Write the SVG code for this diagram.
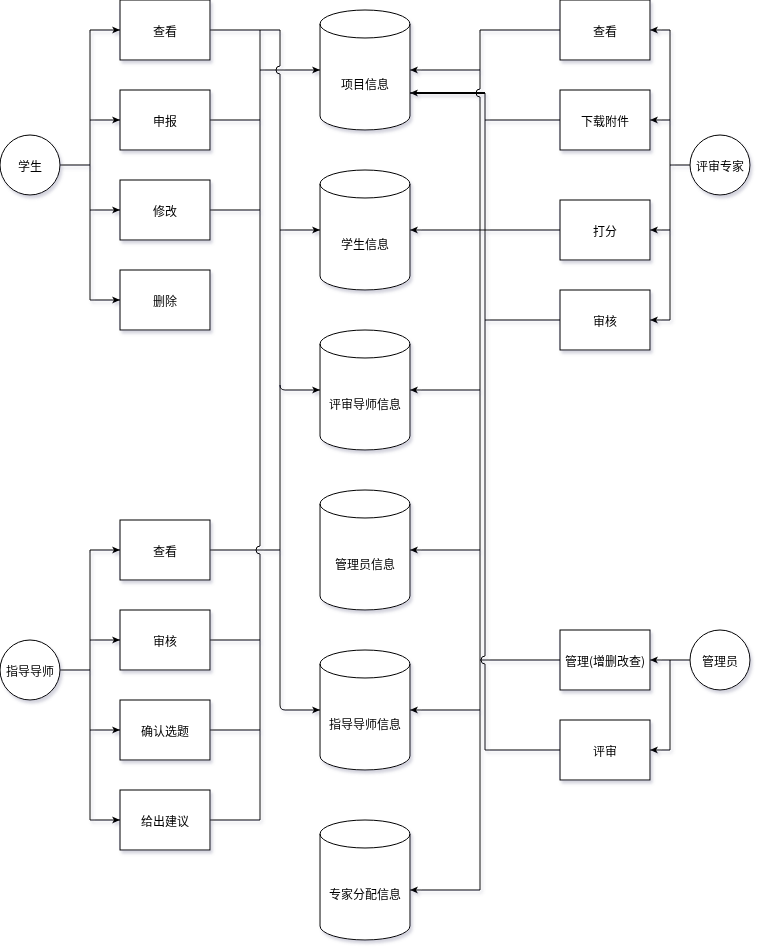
<svg xmlns="http://www.w3.org/2000/svg" width="762" height="952" viewBox="0 0 762 952">
<defs>
<style>
.box{fill:#fff;stroke:#000;stroke-width:1}
.t{font-family:"Noto Sans CJK SC","Noto Sans",sans-serif;font-size:12px;text-anchor:middle;dominant-baseline:central;fill:#000}
.e{fill:none;stroke:#000;stroke-width:1}
.ar{marker-end:url(#a)}
</style>
<marker id="a" markerWidth="10" markerHeight="10" refX="9" refY="5" orient="auto" markerUnits="userSpaceOnUse"><path d="M1,1.5 L9,5 L1,8.5 L3,5 Z" fill="#000"/></marker>
<filter id="sh" x="-20%" y="-20%" width="140%" height="140%"><feDropShadow dx="2" dy="3" stdDeviation="1.5" flood-color="#707090" flood-opacity="0.3"/></filter>
</defs>
<rect width="762" height="952" fill="#fff"/>
<g id="connectors" filter="url(#sh)">
<!-- student tree -->
<path class="e" d="M60,165 L90,165 M90,30 L90,300"/>
<path class="e ar" d="M90,30 L120,30"/>
<path class="e ar" d="M90,120 L120,120"/>
<path class="e ar" d="M90,210 L120,210"/>
<path class="e ar" d="M90,300 L120,300"/>
<!-- tutor tree -->
<path class="e" d="M60,670 L90,670 M90,550 L90,820"/>
<path class="e ar" d="M90,550 L120,550"/>
<path class="e ar" d="M90,640 L120,640"/>
<path class="e ar" d="M90,730 L120,730"/>
<path class="e ar" d="M90,820 L120,820"/>
<!-- left bus -->
<path class="e" d="M210,30 L280,30"/>
<path class="e" d="M260,30 L260,546 A4,4 0 0 0 260,554 L260,820"/>
<path class="e" d="M210,120 L260,120 M210,210 L260,210 M210,640 L260,640 M210,730 L260,730 M210,820 L260,820"/>
<path class="e" d="M210,550 L280,550"/>
<path class="e ar" d="M260,70 L320,70"/>
<path class="e ar" d="M280,30 L280,66 A4,4 0 0 0 280,74 L280,705 Q280,710 285,710 L320,710"/>
<path class="e ar" d="M280,230 L320,230"/>
<path class="e ar" d="M280,385 Q280,390 285,390 L320,390"/>
<!-- right bus -->
<path class="e ar" d="M560,30 L480,30 L480,89 A4,4 0 0 0 480,97 L480,890 L410,890"/>
<path class="e ar" d="M480,70 L410,70"/>
<path class="e ar" d="M480,390 L410,390"/>
<path class="e ar" d="M480,550 L410,550"/>
<path class="e ar" d="M480,710 L410,710"/>
<path class="e ar" d="M560,230 L410,230"/>
<path class="e ar" style="stroke-width:2" d="M485,93 L410,93"/>
<path class="e" d="M485,93 L485,656 A4,4 0 0 0 485,664 L485,750 L560,750"/>
<path class="e" d="M485,120 L560,120 M485,320 L560,320"/>
<path class="e" d="M560,660 L480,660"/>
<!-- expert tree -->
<path class="e" d="M690,165 L670,165 M670,30 L670,320"/>
<path class="e ar" d="M670,30 L650,30"/>
<path class="e ar" d="M670,120 L650,120"/>
<path class="e ar" d="M670,230 L650,230"/>
<path class="e ar" d="M670,320 L650,320"/>
<!-- admin tree -->
<path class="e" d="M690,660 L670,660 L670,750"/>
<path class="e ar" d="M670,660 L650,660"/>
<path class="e ar" d="M670,750 L650,750"/>
</g>
<g filter="url(#sh)">
<g id="student"><circle class="box" cx="30" cy="165" r="30"/><text class="t" x="30" y="165">学生</text></g>
<g id="tutor"><circle class="box" cx="30" cy="670" r="30"/><text class="t" x="30" y="670">指导导师</text></g>
<g id="expert"><circle class="box" cx="720" cy="165" r="30"/><text class="t" x="720" y="165">评审专家</text></g>
<g id="admin"><circle class="box" cx="720" cy="660" r="30"/><text class="t" x="720" y="660">管理员</text></g>

<g id="s-view"><rect class="box" x="120" y="0" width="90" height="60"/><text class="t" x="165" y="30">查看</text></g>
<g id="s-apply"><rect class="box" x="120" y="90" width="90" height="60"/><text class="t" x="165" y="120">申报</text></g>
<g id="s-edit"><rect class="box" x="120" y="180" width="90" height="60"/><text class="t" x="165" y="210">修改</text></g>
<g id="s-del"><rect class="box" x="120" y="270" width="90" height="60"/><text class="t" x="165" y="300">删除</text></g>

<g id="t-view"><rect class="box" x="120" y="520" width="90" height="60"/><text class="t" x="165" y="550">查看</text></g>
<g id="t-review"><rect class="box" x="120" y="610" width="90" height="60"/><text class="t" x="165" y="640">审核</text></g>
<g id="t-confirm"><rect class="box" x="120" y="700" width="90" height="60"/><text class="t" x="165" y="730">确认选题</text></g>
<g id="t-advise"><rect class="box" x="120" y="790" width="90" height="60"/><text class="t" x="165" y="820">给出建议</text></g>

<g id="e-view"><rect class="box" x="560" y="0" width="90" height="60"/><text class="t" x="605" y="30">查看</text></g>
<g id="e-download"><rect class="box" x="560" y="90" width="90" height="60"/><text class="t" x="605" y="120">下载附件</text></g>
<g id="e-score"><rect class="box" x="560" y="200" width="90" height="60"/><text class="t" x="605" y="230">打分</text></g>
<g id="e-review"><rect class="box" x="560" y="290" width="90" height="60"/><text class="t" x="605" y="320">审核</text></g>

<g id="a-manage"><rect class="box" x="560" y="630" width="90" height="60"/><text class="t" x="605" y="660">管理(增删改查)</text></g>
<g id="a-review"><rect class="box" x="560" y="720" width="90" height="60"/><text class="t" x="605" y="750">评审</text></g>

<g id="db-project"><path class="box" d="M320,24 A45,14 0 0 1 410,24 L410,116 A45,14 0 0 1 320,116 Z"/><path class="e" d="M320,24 A45,14 0 0 0 410,24"/><text class="t" x="365" y="83">项目信息</text></g>
<g id="db-student"><path class="box" d="M320,184 A45,14 0 0 1 410,184 L410,276 A45,14 0 0 1 320,276 Z"/><path class="e" d="M320,184 A45,14 0 0 0 410,184"/><text class="t" x="365" y="243">学生信息</text></g>
<g id="db-reviewtutor"><path class="box" d="M320,344 A45,14 0 0 1 410,344 L410,436 A45,14 0 0 1 320,436 Z"/><path class="e" d="M320,344 A45,14 0 0 0 410,344"/><text class="t" x="365" y="403">评审导师信息</text></g>
<g id="db-admin"><path class="box" d="M320,504 A45,14 0 0 1 410,504 L410,596 A45,14 0 0 1 320,596 Z"/><path class="e" d="M320,504 A45,14 0 0 0 410,504"/><text class="t" x="365" y="563">管理员信息</text></g>
<g id="db-tutor"><path class="box" d="M320,664 A45,14 0 0 1 410,664 L410,756 A45,14 0 0 1 320,756 Z"/><path class="e" d="M320,664 A45,14 0 0 0 410,664"/><text class="t" x="365" y="723">指导导师信息</text></g>
<g id="db-assign"><path class="box" d="M320,834 A45,14 0 0 1 410,834 L410,926 A45,14 0 0 1 320,926 Z"/><path class="e" d="M320,834 A45,14 0 0 0 410,834"/><text class="t" x="365" y="893">专家分配信息</text></g>
</g>
</svg>
